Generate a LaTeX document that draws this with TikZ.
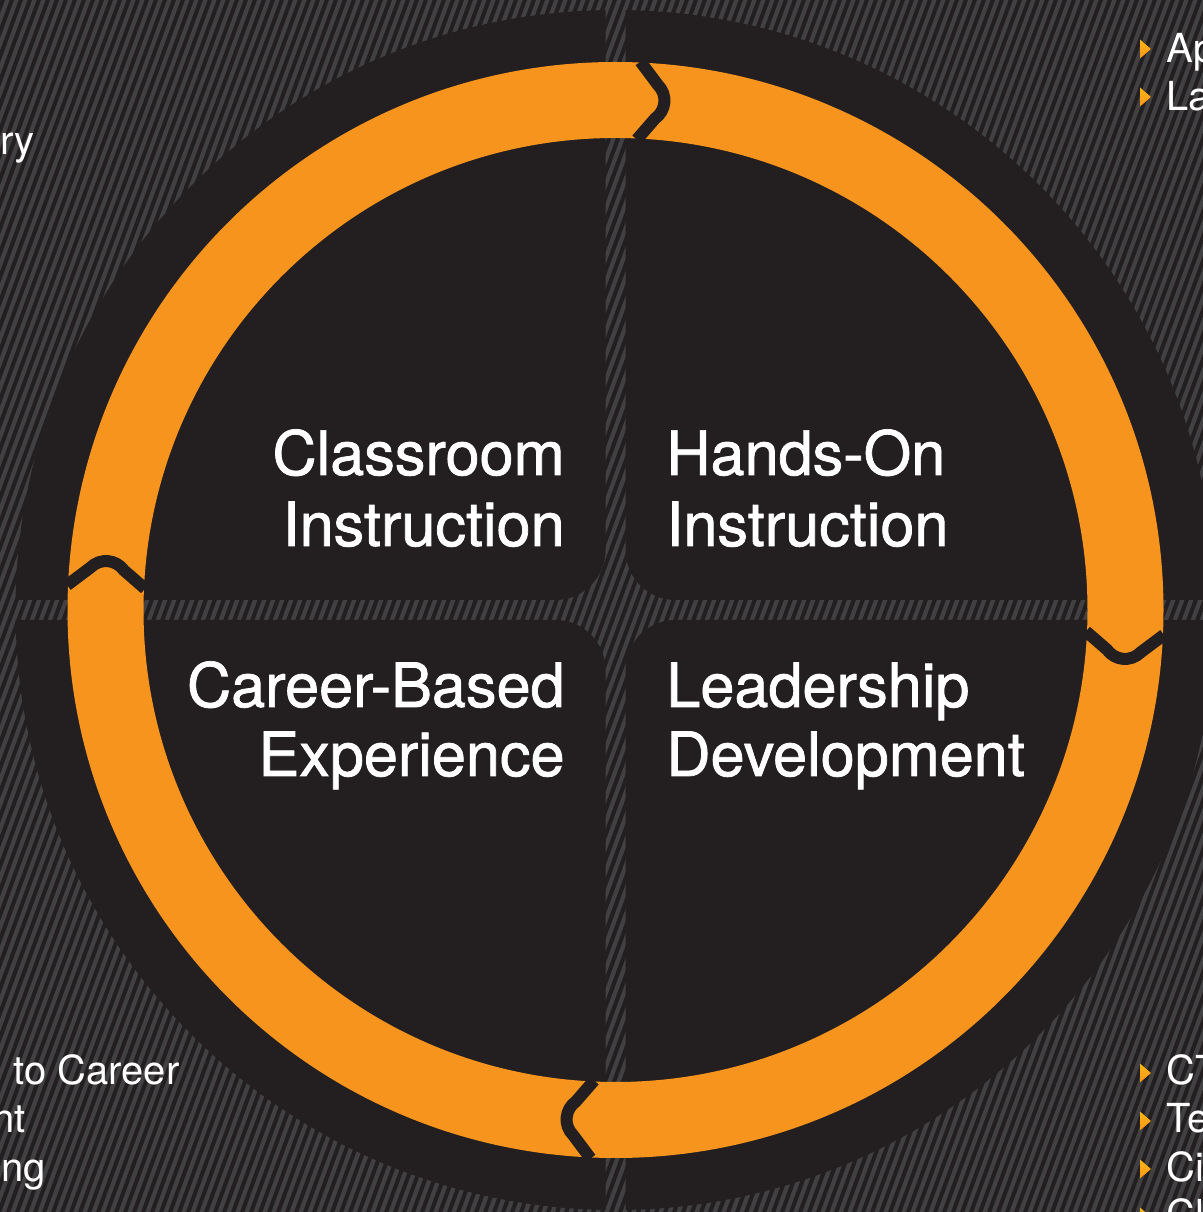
\documentclass[tikz,border=0pt]{standalone}
\usepackage{fontspec}
\setmainfont{TeX Gyre Heros}
\newfontfamily\labelfont[FakeBold=1.2]{TeX Gyre Heros}
\definecolor{bgdark}{HTML}{231F20}
\definecolor{hatchgray}{HTML}{414042}
\definecolor{ringorange}{HTML}{F7941D}
\definecolor{bulletlight}{HTML}{FDB913}
\begin{document}
\begin{tikzpicture}[x=0.5pt,y=0.5pt,
  quad/.style={fill=bgdark},
  ringstyle/.style={draw=ringorange,line width=38pt},
  joint/.style={draw=bgdark,line width=6pt,line join=round},
  hatchline/.style={draw=hatchgray,line width=2.1pt},
  biglabel/.style={text=white,font=\labelfont\fontsize{30.6}{36}\selectfont,inner sep=0pt},
  sidelabel/.style={text=white,font=\fontsize{20}{24}\selectfont,inner sep=0pt},
  bulletmark/.style={top color=bulletlight,bottom color=ringorange,draw=none}]
\useasboundingbox (0,0) rectangle (1203,1212);
\clip (0,0) rectangle (1203,1212);
\fill[bgdark] (0,0) rectangle (1203,1212);
\foreach \i in {-55,...,135} \draw[hatchline] ({\i*9},-10) -- ({\i*9+452},1222);
\coordinate (C) at (615.5,602);
\begin{scope}[shift={(C)}]
  % four quadrants
  \fill[quad] (10,599.92) -- (10,60) arc[start angle=180,end angle=270,radius=50]
     -- (599.92,10) arc[start angle=0.955,end angle=89.045,radius=600] -- cycle;
  \fill[quad] (-10,599.92) -- (-10,60) arc[start angle=0,end angle=-90,radius=50]
     -- (-599.92,10) arc[start angle=179.045,end angle=90.955,radius=600] -- cycle;
  \fill[quad] (-10,-599.92) -- (-10,-60) arc[start angle=0,end angle=90,radius=50]
     -- (-599.92,-10) arc[start angle=180.955,end angle=269.045,radius=600] -- cycle;
  \fill[quad] (10,-599.92) -- (10,-60) arc[start angle=180,end angle=90,radius=50]
     -- (599.92,-10) arc[start angle=-0.955,end angle=-89.045,radius=600] -- cycle;
  % orange ring
  \draw[ringstyle] (0,0) circle (510);
  % joints
  \foreach \t in {87.4,-2.6,-92.6,-182.6}
    \draw[joint] ({\t}:549) -- ({\t-2.0}:527) .. controls ({\t-3.2}:518) and ({\t-3.2}:502) .. ({\t-2.0}:493) -- ({\t}:471);
\end{scope}
% main labels
\node[biglabel,anchor=base east] (cl1) at (565,737) {Classroom};
\node[biglabel,anchor=base east] (cl2) at (565,666) {Instruction};
\node[biglabel,anchor=base east] (cb1) at (565,505) {Career-Based};
\node[biglabel,anchor=base east] (cb2) at (565,436) {Experience};
\node[biglabel,anchor=base west] (ho1) at (666,737) {Hands-On};
\node[biglabel,anchor=base west] (ho2) at (666,666) {Instruction};
\node[biglabel,anchor=base west] (ld1) at (666,505) {Leadership};
\node[biglabel,anchor=base west] (ld2) at (666,436) {Development};
% side texts
\foreach \yc in {1163,1115,139,91,43,-5}
  \fill[bulletmark] (1140,\yc+9.5) -- (1151,\yc) -- (1140,\yc-9.5) -- cycle;
\node[sidelabel,anchor=base west] (tr1) at (1166,1149) {Ap};
\node[sidelabel,anchor=base west] (tr2) at (1166,1101) {La};
\node[sidelabel,anchor=base east] (tl1) at (35,1057) {ry};
\node[sidelabel,anchor=base west] (bl1) at (13,127) {to Career};
\node[sidelabel,anchor=base east] (bl2) at (26,79) {nt};
\node[sidelabel,anchor=base east] (bl3) at (46,31) {ng};
\node[sidelabel,anchor=base west] (br1) at (1166,127) {CT};
\node[sidelabel,anchor=base west] (br2) at (1166,79) {Te};
\node[sidelabel,anchor=base west] (br3) at (1166,31) {Ci};
\node[sidelabel,anchor=base west] (br4) at (1166,-17) {Cl};
\end{tikzpicture}
\end{document}
